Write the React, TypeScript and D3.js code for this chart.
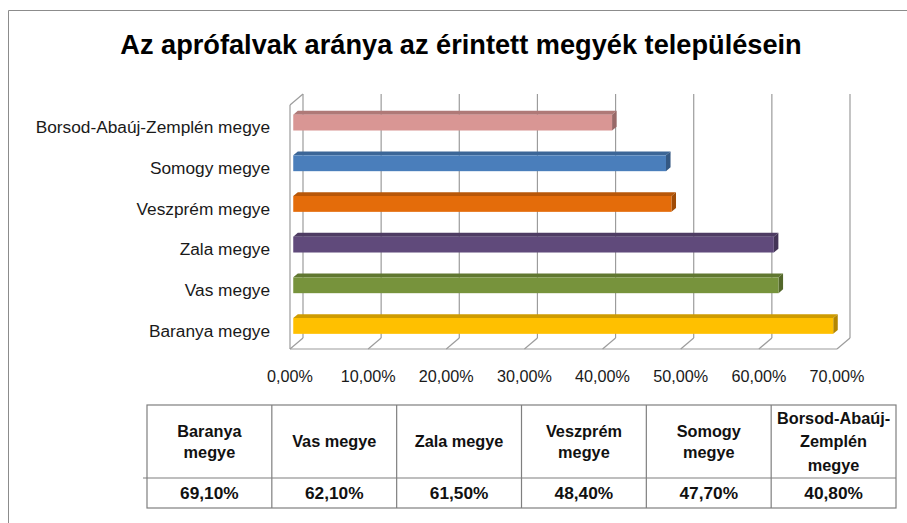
import React from 'react';
import * as d3 from 'd3';

// chart data (bars listed bottom to top, as in the table)
const categories = [
  'Baranya megye',
  'Vas megye',
  'Zala megye',
  'Veszprém megye',
  'Somogy megye',
  'Borsod-Abaúj-Zemplén megye',
];
const values = [69.1, 62.1, 61.5, 48.4, 47.7, 40.8];
const barColors = ['#FFC000', '#77933C', '#604A7B', '#E46C0A', '#4A7EBB', '#D99694'];
const tickValues = [0, 10, 20, 30, 40, 50, 60, 70];
const tableHeaders = [
  ['Baranya', 'megye'],
  ['Vas megye'],
  ['Zala megye'],
  ['Veszprém', 'megye'],
  ['Somogy', 'megye'],
  ['Borsod-Abaúj-', 'Zemplén', 'megye'],
];
const title = 'Az aprófalvak aránya az érintett megyék településein';

const fmt = (v: number) => v.toFixed(2).replace('.', ',') + '%';

const W = 907;
const H = 523;
// front plane of the 3D plot
const front = { left: 290, right: 837, top: 105, bottom: 349 };
const depthX = 13;
const depthY = -11;
const grid = '#9c9c9c';

const App = () => {
  const x = d3.scaleLinear().domain([0, 70]).range([front.left, front.right]);
  const y = d3
    .scaleBand<string>()
    .domain([...categories].reverse())
    .range([front.top, front.bottom]);

  const f0 = 0.25; // bar front face depth
  const f1 = 0.6; // bar back face depth
  const barH = y.bandwidth() * 0.39;

  // table layout
  const tx = d3.scaleBand<number>().domain(d3.range(categories.length)).range([147, 896]);
  const tTop = 405;
  const tMid = 478;
  const tBot = 508;

  return (
    <svg
      width={W}
      height={H}
      style={{ position: 'absolute', left: 0, top: 0, background: '#fff' }}
      fontFamily="'Liberation Sans', Arial, sans-serif"
    >
      {/* outer frame */}
      <line x1={8.5} y1={10.5} x2={W} y2={10.5} stroke="#8c8c8c" />
      <line x1={8.5} y1={10.5} x2={8.5} y2={H} stroke="#8c8c8c" />

      <text x={461} y={54} textAnchor="middle" fontSize={27.2} fontWeight="bold" fill="#000">
        {title}
      </text>

      {/* walls and grid */}
      <g stroke={grid} strokeWidth={1.2} fill="none">
        {tickValues.map((t) => (
          <g key={t}>
            <line x1={x(t) + depthX} y1={front.top + depthY} x2={x(t) + depthX} y2={front.bottom + depthY} />
            <line x1={x(t) + depthX} y1={front.bottom + depthY} x2={x(t)} y2={front.bottom} />
          </g>
        ))}
        <line x1={front.left} y1={front.bottom} x2={front.right} y2={front.bottom} />
        <line x1={front.left} y1={front.top} x2={front.left} y2={front.bottom} />
        <line x1={front.left} y1={front.top} x2={front.left + depthX} y2={front.top + depthY} />
      </g>

      {/* bars */}
      {categories.map((c, i) => {
        const v = values[i];
        const col = barColors[i];
        const cy = (y(c) as number) + y.bandwidth() / 2 + depthY * f0;
        const x0 = x(0) + depthX * f0;
        const x1 = x(v) + depthX * f0;
        const yt = cy - barH / 2;
        const yb = cy + barH / 2;
        const ddx = depthX * (f1 - f0);
        const ddy = depthY * (f1 - f0);
        const top = d3.color(col)!.darker(0.6).toString();
        const side = d3.color(col)!.darker(1).toString();
        return (
          <g key={c}>
            <polygon
              points={`${x0},${yt} ${x1},${yt} ${x1 + ddx},${yt + ddy} ${x0 + ddx},${yt + ddy}`}
              fill={top}
            />
            <polygon
              points={`${x1},${yt} ${x1 + ddx},${yt + ddy} ${x1 + ddx},${yb + ddy} ${x1},${yb}`}
              fill={side}
            />
            <rect x={x0} y={yt} width={x1 - x0} height={barH} fill={col} />
          </g>
        );
      })}

      {/* category labels */}
      {categories.map((c) => (
        <text
          key={c}
          x={270}
          y={(y(c) as number) + y.bandwidth() / 2 + 2}
          dy="0.35em"
          textAnchor="end"
          fontSize={17.3}
          fill="#1a1a1a"
        >
          {c}
        </text>
      ))}

      {/* value axis labels */}
      {tickValues.map((t) => (
        <text key={t} x={x(t)} y={381.5} textAnchor="middle" fontSize={16.2} fill="#1a1a1a">
          {fmt(t)}
        </text>
      ))}

      {/* data table */}
      <g stroke="#7f7f7f" strokeWidth={1.2} fill="none">
        <rect x={147} y={tTop} width={896 - 147} height={tBot - tTop} />
        <line x1={143} y1={tMid} x2={896} y2={tMid} />
        {d3.range(1, categories.length).map((i) => (
          <line key={i} x1={tx(i)} y1={tTop} x2={tx(i)} y2={tBot} />
        ))}
      </g>
      {categories.map((c, i) => {
        const cx = (tx(i) as number) + tx.bandwidth() / 2;
        const lines = tableHeaders[i];
        const lh = lines.length > 2 ? 23.5 : 21;
        const mid = (tTop + tMid) / 2;
        return (
          <g key={c} fontWeight="bold" fill="#111" textAnchor="middle">
            {lines.map((l, j) => (
              <text
                key={j}
                x={cx}
                y={mid + (j - (lines.length - 1) / 2) * lh}
                dy="0.35em"
                fontSize={16.3}
              >
                {l}
              </text>
            ))}
            <text x={cx} y={(tMid + tBot) / 2} dy="0.35em" fontSize={17.3}>
              {fmt(values[i])}
            </text>
          </g>
        );
      })}
    </svg>
  );
};

export default App;
